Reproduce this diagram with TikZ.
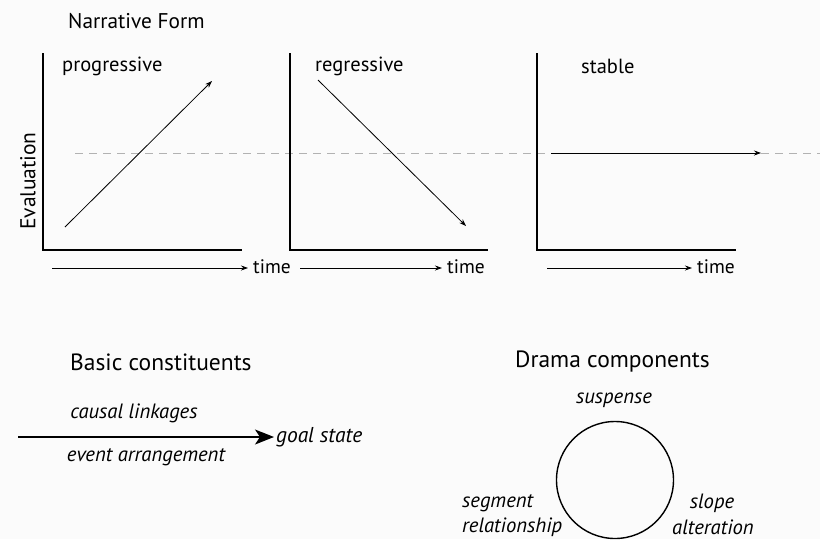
\documentclass[tikz,border=0pt]{standalone}
\usepackage{fontspec}
\setmainfont{PT Sans}
\usetikzlibrary{arrows.meta}
\begin{document}
\begin{tikzpicture}[x=1pt,y=-1pt,
  axis/.style={line width=1.5pt},
  small/.style={line width=0.8pt,-{Stealth[length=7pt,width=5pt]}},
  dashline/.style={line width=0.9pt,color=black!30,dash pattern=on 8pt off 6pt},
  title/.style={font=\fontsize{23.5}{28}\selectfont,inner sep=0pt,anchor=west},
  lab/.style={font=\fontsize{20.5}{24}\selectfont,inner sep=0pt,anchor=west},
  ital/.style={font=\fontsize{20.7}{24}\selectfont\itshape,inner sep=0pt}]
\fill[white!98.5!black] (0,0) rectangle (820,539);
\useasboundingbox (0,0) rectangle (820,539);
% dashed reference line
\coordinate (d0) at (75,153);
\coordinate (d1) at (820,153);
\draw[dashline] (d0) -- (d1);
% title
\node[title,font=\fontsize{21.3}{26}\selectfont] (nf) at (68,21) {Narrative Form};
% panel 1
\coordinate (a1t) at (43,53); \coordinate (a1o) at (43,250); \coordinate (a1r) at (242,250);
\draw[axis] (a1t) -- (a1o) -- (a1r);
\coordinate (t1s) at (52,268); \coordinate (t1e) at (248,268);
\draw[small] (t1s) -- (t1e);
\node[lab,font=\fontsize{19.5}{24}\selectfont] (time1) at (253,267) {time};
\node[lab] (prog) at (62,66) {progressive};
\coordinate (p1s) at (65,227); \coordinate (p1e) at (212,81);
\draw[small] (p1s) -- (p1e);
\node[lab,font=\fontsize{21.5}{24}\selectfont,rotate=90,anchor=center] (eval) at (28,181) {Evaluation};
% panel 2
\coordinate (a2t) at (290,53); \coordinate (a2o) at (290,250); \coordinate (a2r) at (488,250);
\draw[axis] (a2t) -- (a2o) -- (a2r);
\coordinate (t2s) at (300,268); \coordinate (t2e) at (442,268);
\draw[small] (t2s) -- (t2e);
\node[lab,font=\fontsize{19.5}{24}\selectfont] (time2) at (447,267) {time};
\node[lab] (regr) at (315,66) {regressive};
\coordinate (p2s) at (318,80); \coordinate (p2e) at (466,226);
\draw[small] (p2s) -- (p2e);
% panel 3
\coordinate (a3t) at (537,53); \coordinate (a3o) at (537,250); \coordinate (a3r) at (736,250);
\draw[axis] (a3t) -- (a3o) -- (a3r);
\coordinate (t3s) at (547,268); \coordinate (t3e) at (692,268);
\draw[small] (t3s) -- (t3e);
\node[lab,font=\fontsize{19.5}{24}\selectfont] (time3) at (697,267) {time};
\node[lab] (stab) at (581,66) {stable};
\coordinate (p3s) at (551,153); \coordinate (p3e) at (761,153);
\draw[small] (p3s) -- (p3e);
% basic constituents
\node[title] (bc) at (70,362) {Basic constituents};
\node[ital,anchor=center] (cl) at (134,413) {causal linkages};
\coordinate (bs) at (18,437);
\node[ital,anchor=west,font=\fontsize{21.5}{24}\selectfont\itshape] (gs) at (276,437) {goal state};
\draw[line width=1.4pt,shorten >=2pt,-{Stealth[length=19pt,width=15pt,inset=5pt]}] (bs) -- (gs.west);
\node[ital,anchor=center] (ea) at (146,457) {event arrangement};
% drama components
\node[title] (dc) at (515,362) {Drama components};
\node[ital,anchor=center] (susp) at (614,400) {suspense};
\node[draw,circle,line width=1.4pt,minimum size=117pt,inner sep=0pt] (circ) at (615,480) {};
\node[ital,anchor=west] (seg) at (462,503) {segment};
\node[ital,anchor=west] (rel) at (462,527) {relationship};
\node[ital,anchor=center] (slope) at (712,503) {slope};
\node[ital,anchor=center] (alt) at (713,527) {alteration};
\end{tikzpicture}
\end{document}
